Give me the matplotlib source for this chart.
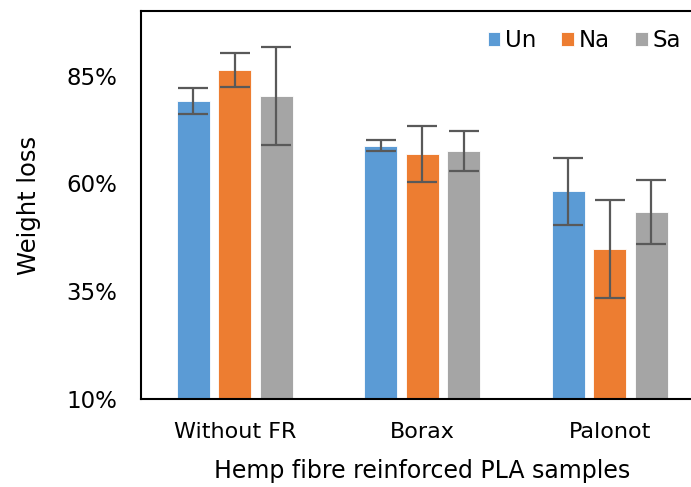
import matplotlib
matplotlib.use("Agg")
import matplotlib.pyplot as plt
import numpy as np
from matplotlib.ticker import FuncFormatter

groups = ["Without FR", "Borax", "Palonot"]
series = ["Un", "Na", "Sa"]
colors = ["#5B9BD5", "#ED7D31", "#A5A5A5"]

un = [79.2, 68.8, 58.2]
na = [86.4, 66.9, 44.7]
sa = [80.3, 67.6, 53.3]
un_err = [3.0, 1.2, 7.8]
na_err = [3.9, 6.5, 11.4]
sa_err = [11.3, 4.7, 7.4]

values = [un, na, sa]
errors = [un_err, na_err, sa_err]

fig = plt.figure(figsize=(6.91, 4.87), dpi=100)
ax = fig.add_axes([0.204, 0.181, 0.814, 0.796])

x = np.arange(len(groups))
width = 0.176
pitch = 0.221
for i, (name, vals, errs, c) in enumerate(zip(series, values, errors, colors)):
    ax.bar(x + (i - 1) * pitch, vals, width, color=c, label=name,
           edgecolor="white", linewidth=0.6,
           yerr=errs, capsize=11, error_kw=dict(ecolor="#595959", elinewidth=1.6, capthick=1.6))

ax.set_xlim(-0.5, 2.5)
ax.set_ylim(10, 100)
ax.set_yticks([10, 35, 60, 85])
ax.yaxis.set_major_formatter(FuncFormatter(lambda v, p: "%d%%" % v))
ax.set_xticks(x)
ax.set_xticklabels(groups)
ax.tick_params(axis="both", length=0, colors="black")
ax.tick_params(axis="y", pad=17, labelsize=16.5)
ax.tick_params(axis="x", pad=17, labelsize=16)
ax.spines["right"].set_visible(False)
for s in ax.spines.values():
    s.set_linewidth(1.5)
    s.set_color("black")

ax.set_ylabel("Weight loss", fontsize=17.5, labelpad=18)
ax.set_xlabel("Hemp fibre reinforced PLA samples", fontsize=17, labelpad=12)

ax.legend(loc="upper right", bbox_to_anchor=(0.988, 0.995), ncol=3, frameon=False,
          fontsize=16.5, handlelength=0.55, handleheight=0.55, handletextpad=0.2,
          columnspacing=1.1, borderaxespad=0.3)

fig.savefig("out.png", dpi=100)
